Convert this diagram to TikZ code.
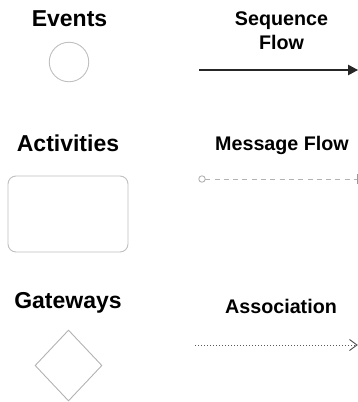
\documentclass[tikz,border=0pt]{standalone}
\usepackage{fontspec}
\setmainfont{Liberation Sans}
\usetikzlibrary{arrows.meta,shapes.geometric}
\begin{document}
\begin{tikzpicture}[x=1bp,y=-1bp,
  bigtitle/.style={font=\fontsize{23bp}{27bp}\selectfont\bfseries,anchor=base,inner sep=0pt},
  smalltitle/.style={font=\fontsize{19.7bp}{24.5bp}\selectfont\bfseries,anchor=base,inner sep=0pt,align=center},
  shapeline/.style={draw=black!25,line width=0.9bp},
]
\useasboundingbox (0,0) rectangle (358,402);

% left column: element kinds
\node[bigtitle] (evt) at (69.5,26) {Events};
\node[shapeline,circle,minimum size=39.5bp,inner sep=0pt] (evtshape) at (69,62) {};

\node[bigtitle] (act) at (68,151.5) {Activities};
\node[shapeline,rectangle,rounded corners=8bp,minimum width=120bp,minimum height=76bp,inner sep=0pt] (actshape) at (68,214) {};

\node[bigtitle] (gtw) at (68,308) {Gateways};
\node[shapeline,draw=black!30,diamond,minimum width=67bp,minimum height=71bp,inner sep=0pt] (gtwshape) at (68.5,365.5) {};

% right column: connector kinds
\node[smalltitle,anchor=north] (seq) at (281.5,11.5) {Sequence\\Flow};
\coordinate (seqA) at (199,70);
\coordinate (seqB) at (358,70);
\draw[line width=1.1bp,black!85,-{Triangle[length=10bp,width=10.5bp]}] (seqA) -- (seqB);

\node[smalltitle] (msg) at (282,150) {Message Flow};
\coordinate (msgA) at (202,179);
\coordinate (msgB) at (357,179);
\draw[black!30,line width=0.9bp] (msgA) circle (3.2bp);
\draw[black!30,line width=1bp,dash pattern=on 5bp off 4.3bp] ([xshift=3.2bp]msgA) -- (msgB);
\draw[black!40,line width=0.9bp] ([yshift=-5bp]msgB) -- ([yshift=5bp]msgB);

\node[smalltitle] (asc) at (281,313) {Association};
\coordinate (ascA) at (195,345);
\coordinate (ascB) at (357,345);
\draw[black!65,line width=0.8bp,dash pattern=on 1bp off 2bp] (ascA) -- ([xshift=-2bp]ascB);
\draw[black!70,line width=0.9bp] ([xshift=-7.5bp,yshift=-5.5bp]ascB) -- (ascB) -- ([xshift=-7.5bp,yshift=5.5bp]ascB);
\end{tikzpicture}
\end{document}
